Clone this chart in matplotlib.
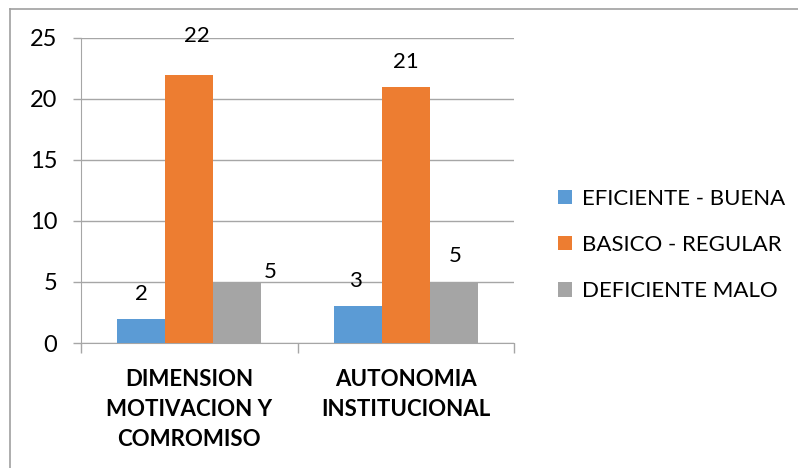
import matplotlib

matplotlib.use("Agg")

import matplotlib.pyplot as plt
from matplotlib.lines import Line2D
import numpy as np

plt.rcParams["font.family"] = ["Lato", "DejaVu Sans"]

categories = ["DIMENSION\nMOTIVACION Y\nCOMROMISO", "AUTONOMIA\nINSTITUCIONAL"]
series_names = ["EFICIENTE - BUENA", "BASICO - REGULAR", "DEFICIENTE MALO"]
series_values = [
    [2, 3],
    [22, 21],
    [5, 5],
]
colors = ["#5B9BD5", "#ED7D31", "#A5A5A5"]
yticks = [0, 5, 10, 15, 20, 25]

# label offsets (pixels) from the top centre of each bar, as placed in the original
label_offsets = [
    [(0, 25), (-2, 25)],
    [(8, 39), (0, 25)],
    [(33, 10), (1, 26)],
]

W, H = 798, 468
fig = plt.figure(figsize=(W / 100, H / 100), dpi=100)
ax = fig.add_axes([81 / W, 1 - 343 / H, (514 - 81) / W, (343 - 38) / H])

grid_color = "#A6A6A6"
x = np.arange(len(categories))
bar_w = 48 / 216
for i, (name, vals, col) in enumerate(zip(series_names, series_values, colors)):
    pos = x + (i - 1) * bar_w
    bars = ax.bar(pos, vals, width=bar_w, color=col, label=name, zorder=3)
    for rect, v, off in zip(bars, vals, label_offsets[i]):
        ax.annotate(
            str(v),
            (rect.get_x() + rect.get_width() / 2, rect.get_height()),
            xytext=off,
            textcoords="offset pixels",
            ha="center",
            va="center",
            fontsize=16,
            color="#000000",
        )

ax.set_xlim(-0.5, len(categories) - 0.5)
ax.set_ylim(0, 25)
ax.set_yticks(yticks)
ax.yaxis.grid(True, color=grid_color, linewidth=1, zorder=0)
ax.tick_params(axis="y", length=6, color=grid_color, labelsize=17, pad=11, width=1)

# category boundaries as major ticks, names as minor labels
ax.set_xticks(np.arange(len(categories) + 1) - 0.5)
ax.set_xticklabels([])
ax.set_xticks(x, minor=True)
ax.set_xticklabels(categories, minor=True, fontsize=16, fontweight="bold", linespacing=1.52)
ax.tick_params(axis="x", which="major", length=7, color=grid_color, width=1)
ax.tick_params(axis="x", which="minor", length=0, pad=19)

for side in ["top", "right"]:
    ax.spines[side].set_visible(False)
ax.spines["left"].set_color(grid_color)
ax.spines["bottom"].set_color(grid_color)

leg = ax.legend(
    loc="center left",
    bbox_to_anchor=(538 / W, 1 - 245 / H),
    bbox_transform=fig.transFigure,
    frameon=False,
    fontsize=16,
    handlelength=0.62,
    handleheight=0.62,
    handletextpad=0.45,
    labelspacing=1.18,
)

# chart frame
fc = "#A0A0A0"
fig.add_artist(Line2D([10 / W, 1], [1 - 9 / H, 1 - 9 / H], transform=fig.transFigure, color=fc, linewidth=1.2))
fig.add_artist(Line2D([10 / W, 10 / W], [0, 1 - 9 / H], transform=fig.transFigure, color=fc, linewidth=1.2))

fig.savefig("out.png", dpi=100)
plt.close(fig)
